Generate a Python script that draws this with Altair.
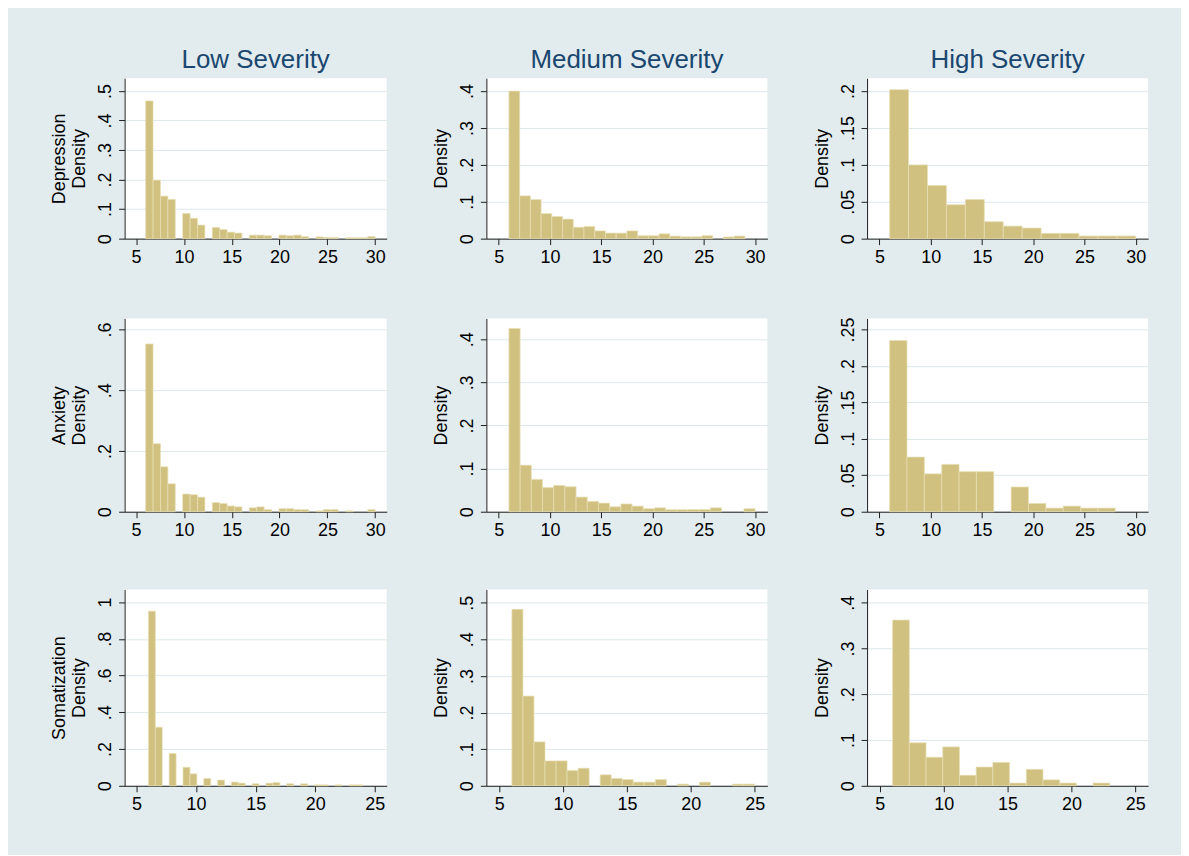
import altair as alt
import pandas as pd

FONT = "Liberation Sans"
BG = "#e2ecee"
BAR = "#d1c180"
BAR_EDGE = "#e8dfb6"
GRID = "#dde8eb"
TITLE_COLOR = "#1a476f"
AXIS_COLOR = "#1e1e1e"

COLUMN_TITLES = ["Low Severity", "Medium Severity", "High Severity"]
ROW_NAMES = ["Depression", "Anxiety", "Somatization"]

# ---- histogram densities (per bin), with score range [min, max] of each panel ----
dep_low_range = [6, 30]
dep_low = [0.466, 0.198, 0.144, 0.133, 0, 0.085, 0.069, 0.046, 0, 0.038, 0.031,
           0.022, 0.019, 0, 0.012, 0.012, 0.010, 0, 0.012, 0.010, 0.012, 0.007,
           0, 0.006, 0.004, 0.004, 0, 0.003, 0.003, 0.003, 0.007]
dep_med_range = [6, 29]
dep_med = [0.400, 0.116, 0.106, 0.068, 0.060, 0.053, 0.031, 0.033, 0.021, 0.015,
           0.015, 0.021, 0.008, 0.008, 0.013, 0.007, 0.005, 0.005, 0.008, 0,
           0.0045, 0.007]
dep_high_range = [6, 30]
dep_high = [0.202, 0.100, 0.072, 0.046, 0.053, 0.023, 0.017, 0.0144, 0.0072,
            0.0072, 0.0036, 0.0036, 0.0036]

anx_low_range = [6, 30]
anx_low = [0.553, 0.224, 0.148, 0.092, 0, 0.058, 0.056, 0.048, 0, 0.030, 0.027,
           0.019, 0.016, 0, 0.013, 0.016, 0.007, 0, 0.010, 0.010, 0.007, 0.007,
           0, 0.003, 0.007, 0.007, 0, 0.003, 0, 0, 0.007]
anx_med_range = [6, 30]
anx_med = [0.425, 0.108, 0.075, 0.056, 0.061, 0.058, 0.034, 0.024, 0.020, 0.0115,
           0.018, 0.013, 0.007, 0.009, 0.0046, 0.0046, 0.005, 0.005, 0.009, 0,
           0, 0.007]
anx_high_range = [6, 28]
anx_high = [0.235, 0.075, 0.052, 0.065, 0.055, 0.055, 0, 0.034, 0.0114, 0.005,
            0.0077, 0.005, 0.005]

som_low_range = [6, 24]
som_low = [0.951, 0.319, 0, 0.176, 0, 0.101, 0.065, 0, 0.040, 0, 0.031, 0, 0.020,
           0.0145, 0, 0.011, 0, 0.0145, 0.018, 0, 0.011, 0, 0.011, 0, 0.005,
           0.005, 0, 0.005, 0, 0.005, 0.005]
som_med_range = [6, 25]
som_med = [0.482, 0.245, 0.120, 0.068, 0.068, 0.042, 0.048, 0, 0.030, 0.020,
           0.017, 0.010, 0.010, 0.017, 0, 0.0045, 0, 0.010, 0, 0, 0.0045, 0.0045]
som_high_range = [6, 23]
som_high = [0.362, 0.094, 0.0625, 0.085, 0.023, 0.041, 0.051, 0.006, 0.036,
            0.013, 0.006, 0, 0.006]

# ---- axis ticks ----
x_ticks_30 = [5, 10, 15, 20, 25, 30]
x_ticks_25 = [5, 10, 15, 20, 25]
y_ticks = [
    [0, 0.1, 0.2, 0.3, 0.4, 0.5], [0, 0.1, 0.2, 0.3, 0.4], [0, 0.05, 0.1, 0.15, 0.2],
    [0, 0.2, 0.4, 0.6], [0, 0.1, 0.2, 0.3, 0.4], [0, 0.05, 0.1, 0.15, 0.2, 0.25],
    [0, 0.2, 0.4, 0.6, 0.8, 1], [0, 0.1, 0.2, 0.3, 0.4, 0.5], [0, 0.1, 0.2, 0.3, 0.4],
]
y_max = [0.543, 0.435, 0.2175, 0.637, 0.4485, 0.2654, 1.069, 0.5363, 0.429]
x_domain_30 = [3.8, 31.2]
x_domain_25 = [4.0, 26.0]

COL_W = [263, 282, 282]
ROW_H = [161, 194, 197]

LABEL_EXPR = ("datum.value == 0 ? '0' : (datum.value >= 1 ? format(datum.value, 'd') : "
              "substring(format(datum.value, '.2~f'), 1))")

panels_data = [
    (dep_low, dep_low_range), (dep_med, dep_med_range), (dep_high, dep_high_range),
    (anx_low, anx_low_range), (anx_med, anx_med_range), (anx_high, anx_high_range),
    (som_low, som_low_range), (som_med, som_med_range), (som_high, som_high_range),
]


def make_panel(idx):
    heights, (lo, hi) = panels_data[idx]
    r, c = divmod(idx, 3)
    n = len(heights)
    bw = (hi - lo) / n
    rows = [{"x0": lo + i * bw, "x1": lo + (i + 1) * bw, "density": d, "base": 0}
            for i, d in enumerate(heights) if d > 0]
    df = pd.DataFrame(rows)
    xticks = x_ticks_25 if r == 2 else x_ticks_30
    xdom = x_domain_25 if r == 2 else x_domain_30
    ytitle = [ROW_NAMES[r], "Density"] if c == 0 else "Density"
    ch = alt.Chart(df).mark_rect(fill=BAR, stroke=BAR_EDGE, strokeWidth=0.7).encode(
        x=alt.X("x0:Q", scale=alt.Scale(domain=xdom, nice=False, zero=False),
                axis=alt.Axis(values=xticks, title=None, grid=False, format="d",
                              labelFlush=False, labelOverlap=False)),
        x2="x1:Q",
        y=alt.Y("density:Q", stack=None,
                scale=alt.Scale(domain=[0, y_max[idx]], nice=False, zero=True),
                axis=alt.Axis(values=y_ticks[idx], title=ytitle, grid=True,
                              labelExpr=LABEL_EXPR, labelOverlap=False)),
        y2="base:Q",
    ).properties(width=COL_W[c], height=ROW_H[r])
    if r == 0:
        ch = ch.properties(title=alt.TitleParams(
            text=COLUMN_TITLES[c], fontSize=26, color=TITLE_COLOR, font=FONT,
            fontWeight="normal", anchor="middle", frame="group", offset=5))
    return ch


panels = [make_panel(i) for i in range(9)]

chart = alt.concat(
    *panels, columns=3, spacing={"row": 50, "column": 45}, align="each",
    background=BG, padding={"left": 42, "top": 38, "right": 33, "bottom": 40},
).configure(font=FONT).configure_view(
    fill="white", stroke="transparent", strokeWidth=0
).configure_axis(
    domainColor=AXIS_COLOR, tickColor=AXIS_COLOR, tickSize=6, tickWidth=1, domainWidth=1,
    labelFontSize=18, labelColor="black", labelFont=FONT, labelPadding=4,
    titleFontSize=18, titleFontWeight="normal", titleColor="black", titleFont=FONT,
    gridColor=GRID, gridWidth=1,
).configure_axisY(
    labelAngle=270, labelAlign="center", labelBaseline="bottom",
    titlePadding=8, titleLineHeight=20,
)

chart.save("out.html", embed_options={"renderer": "svg", "actions": False})
